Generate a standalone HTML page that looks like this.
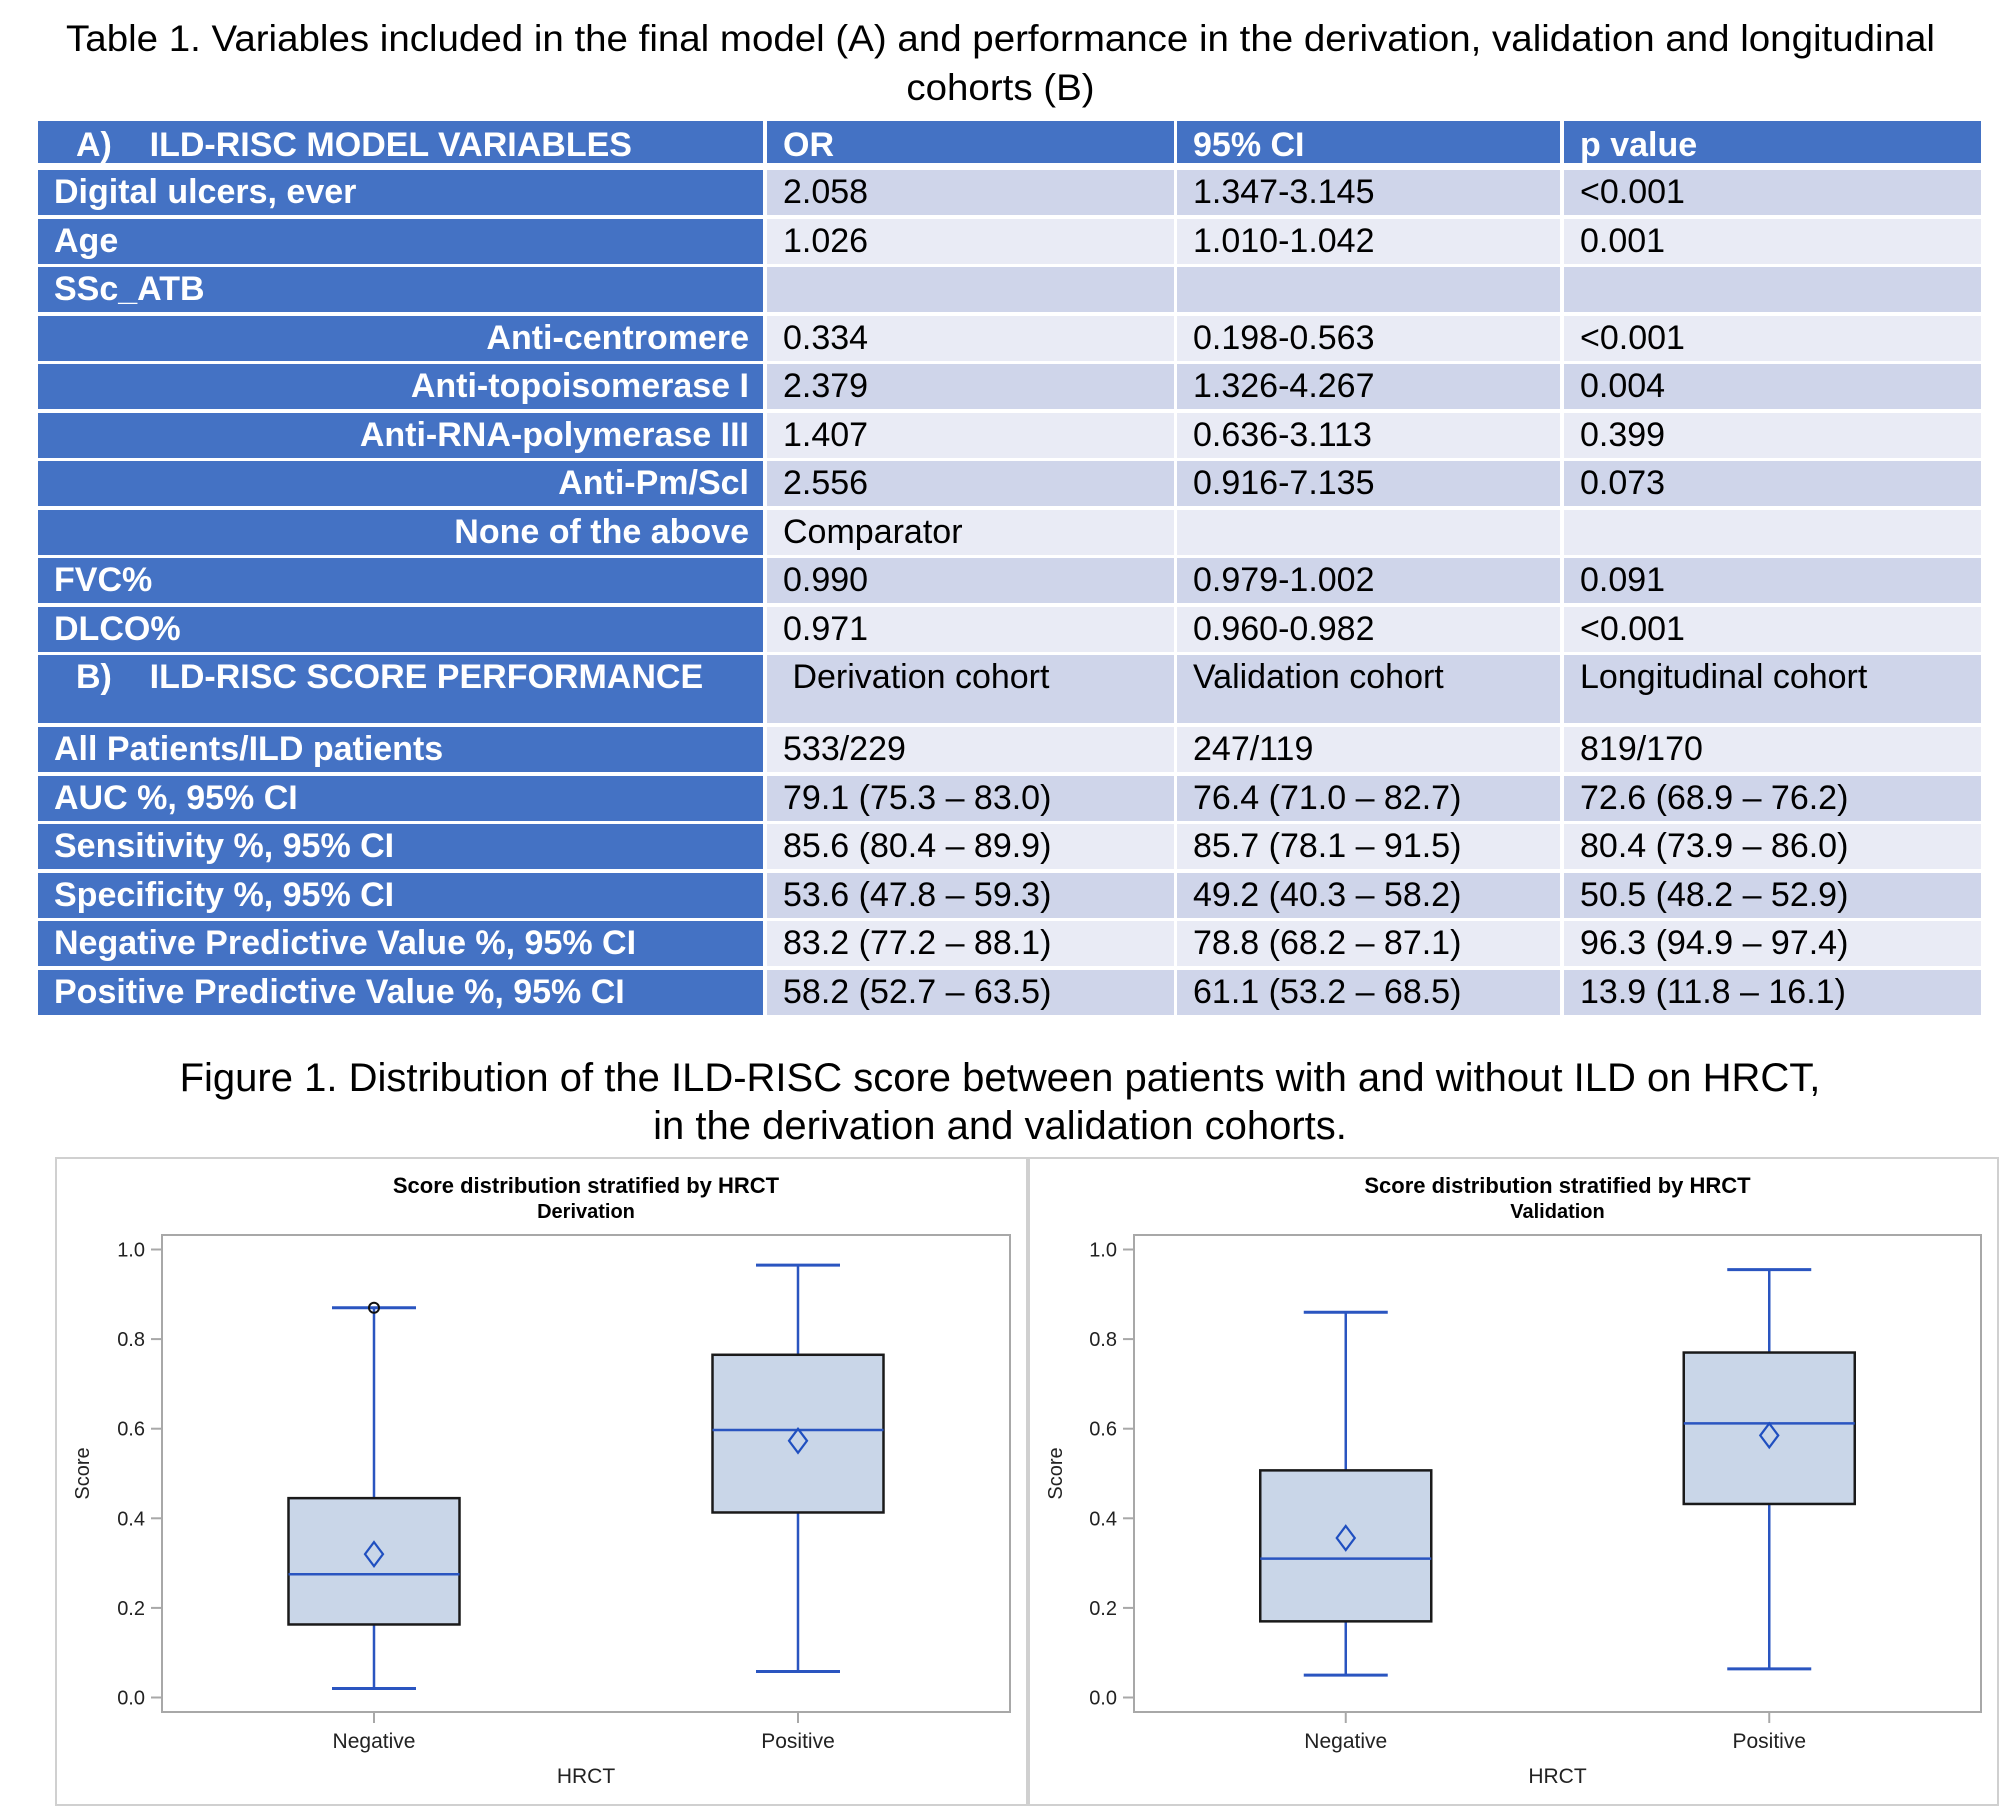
<!DOCTYPE html>
<html><head><meta charset="utf-8">
<style>
body{margin:0;width:2000px;height:1808px;background:#fff;position:relative;overflow:hidden;font-family:"Liberation Sans",sans-serif}
.t{position:absolute;left:0;width:2000px;text-align:center;font-size:37px;color:#000;white-space:nowrap}
.t span{display:inline-block;transform:scaleX(1.04)}
.c{position:absolute;box-sizing:border-box;white-space:nowrap;font-size:34px;line-height:45px;overflow:visible}
.c span{display:inline-block;transform:scaleX(1.0);transform-origin:left center}
.h{background:#4472c4;color:#fff;font-weight:bold}
.r span{transform-origin:right center}
.f{position:absolute;left:0;width:2000px;text-align:center;font-size:40px;color:#000}
</style></head><body>
<div class="t" style="top:18px"><span>Table 1. Variables included in the final model (A) and performance in the derivation, validation and longitudinal</span></div>
<div class="t" style="top:67px"><span>cohorts (B)</span></div>
<div id="table"></div>
<div class="f" style="top:1056px">Figure 1. Distribution of the ILD-RISC score between patients with and without ILD on HRCT,</div>
<div class="f" style="top:1104px">in the derivation and validation cohorts.</div>
<svg id="charts" width="2000" height="1808" style="position:absolute;left:0;top:0"></svg>
<script>
const rows = [
 ["h","A)\u00a0\u00a0\u00a0\u00a0ILD-RISC MODEL VARIABLES","OR","95% CI","p value",121,42],
 ["l","Digital ulcers, ever","2.058","1.347-3.145","<0.001",170,45,"d"],
 ["l","Age","1.026","1.010-1.042","0.001",218.5,45,"e"],
 ["l","SSc_ATB","","","",267,45,"d"],
 ["r","Anti-centromere","0.334","0.198-0.563","<0.001",315.5,45,"e"],
 ["r","Anti-topoisomerase I","2.379","1.326-4.267","0.004",364,45,"d"],
 ["r","Anti-RNA-polymerase III","1.407","0.636-3.113","0.399",412.5,45,"e"],
 ["r","Anti-Pm/Scl","2.556","0.916-7.135","0.073",461,45,"d"],
 ["r","None of the above","Comparator","","",509.5,45,"e"],
 ["l","FVC%","0.990","0.979-1.002","0.091",558,45,"d"],
 ["l","DLCO%","0.971","0.960-0.982","<0.001",606.5,45,"e"],
 ["b","B)\u00a0\u00a0\u00a0\u00a0ILD-RISC SCORE PERFORMANCE","\u00a0Derivation cohort","Validation cohort","Longitudinal cohort",655,68,"d"],
 ["l","All Patients/ILD patients","533/229","247/119","819/170",727,45,"e"],
 ["l","AUC %, 95% CI","79.1 (75.3 \u2013 83.0)","76.4 (71.0 \u2013 82.7)","72.6 (68.9 \u2013 76.2)",775.5,45,"d"],
 ["l","Sensitivity %, 95% CI","85.6 (80.4 \u2013 89.9)","85.7 (78.1 \u2013 91.5)","80.4 (73.9 \u2013 86.0)",824,45,"e"],
 ["l","Specificity %, 95% CI","53.6 (47.8 \u2013 59.3)","49.2 (40.3 \u2013 58.2)","50.5 (48.2 \u2013 52.9)",872.5,45,"d"],
 ["l","Negative Predictive Value %, 95% CI","83.2 (77.2 \u2013 88.1)","78.8 (68.2 \u2013 87.1)","96.3 (94.9 \u2013 97.4)",921,45,"e"],
 ["l","Positive Predictive Value %, 95% CI","58.2 (52.7 \u2013 63.5)","61.1 (53.2 \u2013 68.5)","13.9 (11.8 \u2013 16.1)",969.5,45,"d"]
];
const colX=[38,767,1177,1564], colW=[725,407,383,417];
const tb=document.getElementById('table');
rows.forEach((r,i)=>{
  for(let c=0;c<4;c++){
    const d=document.createElement('div');
    
    
    let cls='c';
    const head = r[0]==='h' || c===0;
    if(head) cls+=' h';
    if(c===0 && r[0]==='r') cls+=' r';
    d.className=cls;
    d.style.left=colX[c]+'px';d.style.top=r[5]+'px';d.style.width=colW[c]+'px';d.style.height=r[6]+'px';
    if(!head) d.style.background = r[7]==='d' ? '#cfd5ea' : '#e9ebf5';
    if(!head) d.style.color='#000';
    d.style.paddingLeft = (c===0 ? (r[0]==='h'||r[0]==='b'?'38px':'16px') : '16px');
    if(c===0 && r[0]==='r'){d.style.textAlign='right';d.style.paddingRight='14px';d.style.paddingLeft='0';}
    const s=document.createElement('span');s.textContent=r[c+1];
    if(r[0]==='h') d.style.lineHeight='48px';
    d.appendChild(s);tb.appendChild(d);
  }
});

// ---- chart data ----
const categories=["Negative","Positive"];
const derivWhiskerLow=[0.02,0.058];
const derivQ1=[0.163,0.413];
const derivMedian=[0.275,0.597];
const derivMean=[0.32,0.573];
const derivQ3=[0.445,0.765];
const derivWhiskerHigh=[0.87,0.965];
const derivOutliers=[[0.87],[]];
const validWhiskerLow=[0.05,0.064];
const validQ1=[0.17,0.432];
const validMedian=[0.31,0.612];
const validMean=[0.356,0.585];
const validQ3=[0.507,0.77];
const validWhiskerHigh=[0.86,0.955];
const validOutliers=[[],[]];
const yTicks=[0,0.2,0.4,0.6,0.8,1.0];
const yTickLabels=["0.0","0.2","0.4","0.6","0.8","1.0"];

const NS='http://www.w3.org/2000/svg';
const svg=document.getElementById('charts');
function el(tag,attrs,parent,text){const e=document.createElementNS(NS,tag);for(const k in attrs)e.setAttribute(k,attrs[k]);if(text!==undefined)e.textContent=text;(parent||svg).appendChild(e);return e;}

function drawPanel(p){
  const g=el('g',{});
  
  
  el('rect',{x:p.px,y:1158,width:p.pw,height:647,fill:'#fff',stroke:'#d0d0d0','stroke-width':2},g);
  const L=p.fx0,R=p.fx1,T=1235,B=1712;
  const y=v=>1697.5-v*(1697.5-1249.5);
  const xc=i=>L+(R-L)*(0.25+0.5*i);
  const t1=el('text',{x:(L+R)/2,y:1193,'text-anchor':'middle','font-size':22,'font-weight':'bold',fill:'#000'},g,'Score distribution stratified by HRCT');
  
  const t2=el('text',{x:(L+R)/2,y:1218,'text-anchor':'middle','font-size':20,'font-weight':'bold',fill:'#000'},g,p.sub);
  
  el('rect',{x:L,y:T,width:R-L,height:B-T,fill:'none',stroke:'#a8a8a8','stroke-width':2},g);
  yTicks.forEach((v,i)=>{
    el('line',{x1:L-11,x2:L,y1:y(v),y2:y(v),stroke:'#a8a8a8','stroke-width':2},g);
    const tl=el('text',{x:L-17,y:y(v)+7,'text-anchor':'end','font-size':20,fill:'#222'},g,yTickLabels[i]);
    
  });
  const yl=el('text',{x:0,y:0,transform:`translate(${p.px+33},${(T+B)/2}) rotate(-90)`,'text-anchor':'middle','font-size':20,fill:'#222'},g,'Score');
  
  const xl=el('text',{x:(L+R)/2,y:1783,'text-anchor':'middle','font-size':21,fill:'#222'},g,'HRCT');
  
  categories.forEach((c,i)=>{
    const x=xc(i);
    el('line',{x1:x,x2:x,y1:B,y2:B+11,stroke:'#a8a8a8','stroke-width':2},g);
    const cl=el('text',{x:x,y:1748,'text-anchor':'middle','font-size':21,fill:'#222'},g,c);
    
    const bx=el('g',{},g);
    
    
    const hw=85.5, cw=42;
    el('line',{x1:x,x2:x,y1:y(p.hi[i]),y2:y(p.q3[i]),stroke:'#2a55c0','stroke-width':2.5},bx);
    el('line',{x1:x,x2:x,y1:y(p.q1[i]),y2:y(p.lo[i]),stroke:'#2a55c0','stroke-width':2.5},bx);
    el('line',{x1:x-cw,x2:x+cw,y1:y(p.hi[i]),y2:y(p.hi[i]),stroke:'#2a55c0','stroke-width':3},bx);
    el('line',{x1:x-cw,x2:x+cw,y1:y(p.lo[i]),y2:y(p.lo[i]),stroke:'#2a55c0','stroke-width':3},bx);
    el('rect',{x:x-hw,y:y(p.q3[i]),width:2*hw,height:y(p.q1[i])-y(p.q3[i]),fill:'#c9d6e8',stroke:'#1a1a1a','stroke-width':2.5},bx);
    el('line',{x1:x-hw,x2:x+hw,y1:y(p.med[i]),y2:y(p.med[i]),stroke:'#2a55c0','stroke-width':2.5},bx);
    const my=y(p.mean[i]);
    el('polygon',{points:`${x},${my-12} ${x+9},${my} ${x},${my+12} ${x-9},${my}`,fill:'none',stroke:'#1f4fc0','stroke-width':2.2},bx);
    p.out[i].forEach(v=>{
      const o=el('circle',{cx:x,cy:y(v),r:5,fill:'none',stroke:'#111','stroke-width':2},bx);
      
    });
  });
}
drawPanel({name:'derivation-chart',px:56,pw:971,fx0:162,fx1:1010,sub:'Derivation',lo:derivWhiskerLow,q1:derivQ1,med:derivMedian,mean:derivMean,q3:derivQ3,hi:derivWhiskerHigh,out:derivOutliers});
drawPanel({name:'validation-chart',px:1029,pw:969,fx0:1134,fx1:1981,sub:'Validation',lo:validWhiskerLow,q1:validQ1,med:validMedian,mean:validMean,q3:validQ3,hi:validWhiskerHigh,out:validOutliers});
</script>
</body></html>
